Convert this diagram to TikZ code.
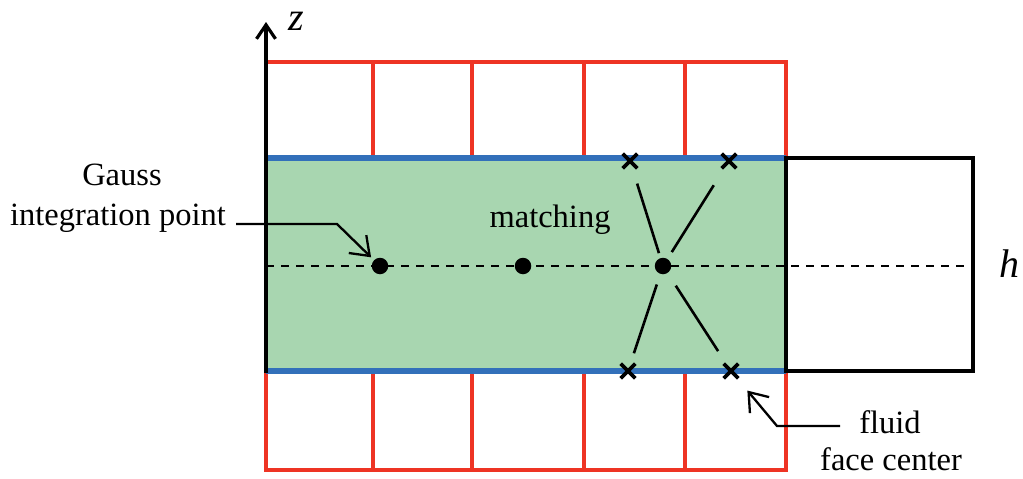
\documentclass[tikz,border=0pt]{standalone}
\usepackage{fontspec}
\setmainfont{Liberation Serif}
\usetikzlibrary{arrows.meta,shapes.misc}
\definecolor{gridred}{RGB}{238,52,36}
\definecolor{wallblue}{RGB}{50,112,186}
\definecolor{cellgreen}{RGB}{168,214,176}
\tikzset{
  lbl/.style={font=\fontsize{32.5}{38}\selectfont, inner sep=0pt, anchor=base},
  axlbl/.style={font=\fontsize{40}{46}\selectfont\itshape, inner sep=0pt, anchor=base},
  gpt/.style={circle, fill=black, inner sep=0pt, minimum size=16.5pt},
  fcx/.style={cross out, draw=black, line width=3.6pt, inner sep=0pt, minimum size=11pt},
  redgrid/.style={draw=gridred, line width=4pt},
  wall/.style={draw=wallblue, line width=5.5pt},
  spoke/.style={line width=2.6pt},
  callout/.style={line width=2.3pt, -{Straight Barb[length=17pt,width=25pt,line width=2.3pt]}},
}
\begin{document}
\begin{tikzpicture}[x=1pt,y=-1pt]
\useasboundingbox (0,0) rectangle (1023,479);

% fluid cell
\fill[cellgreen] (266,158) rectangle (786,371);

% solid cells above and below
\draw[redgrid] (266,62) rectangle (786,158);
\draw[redgrid] (266,371) rectangle (786,470);
\foreach \x in {373,472,584,685} {
  \draw[redgrid] (\x,62) -- (\x,158);
  \draw[redgrid] (\x,371) -- (\x,470);
}

% fluid-solid interfaces
\draw[wall] (266,158) -- (786,158);
\draw[wall] (266,371) -- (786,371);

% neighbouring cell and centre line
\draw[line width=4.5pt] (786,158) rectangle (973,371);
\draw[line width=2.6pt, dash pattern=on 8pt off 7pt] (266,266) -- (973,266);

% z axis
\draw[line width=4.5pt, -{Straight Barb[length=14pt,width=19pt,line width=3.2pt]}] (266,373) -- (266,22);
\node[axlbl] (zlab) at (296,30) {z};
\node[axlbl] (hlab) at (1009,277) {h};

% integration points
\node[gpt] (g1) at (380,266) {};
\node[gpt] (g2) at (523,266) {};
\node[gpt] (g3) at (663,266) {};

% fluid face centres
\node[fcx] (f1) at (630,161) {};
\node[fcx] (f2) at (729,161) {};
\node[fcx] (f3) at (628,371) {};
\node[fcx] (f4) at (731,371) {};

% matching stencil
\draw[spoke, shorten <=5pt, shorten >=16pt] (g3) -- (f1);
\draw[spoke, shorten <=8pt, shorten >=20pt] (g3) -- (f2);
\draw[spoke, shorten <=11pt, shorten >=11pt] (g3) -- (f3);
\draw[spoke, shorten <=15pt, shorten >=15pt] (g3) -- (f4);

% labels
\node[lbl] (gaussA) at (122,185) {Gauss};
\node[lbl] (gaussB) at (118,225) {integration point};
\node[lbl] (match) at (550,227) {matching};
\node[lbl] (fluidA) at (890,433) {fluid};
\node[lbl] (fluidB) at (891,470) {face center};

% callouts
\coordinate (gk) at (337,224);
\draw[callout, shorten >=4pt] ([xshift=10pt,yshift=1pt]gaussB.base east) -- (gk) -- (g1);
\coordinate (fk) at (777,426);
\draw[callout, shorten >=16pt] ([xshift=-19pt,yshift=7pt]fluidA.base west) -- (fk) -- (f4);
\end{tikzpicture}
\end{document}
